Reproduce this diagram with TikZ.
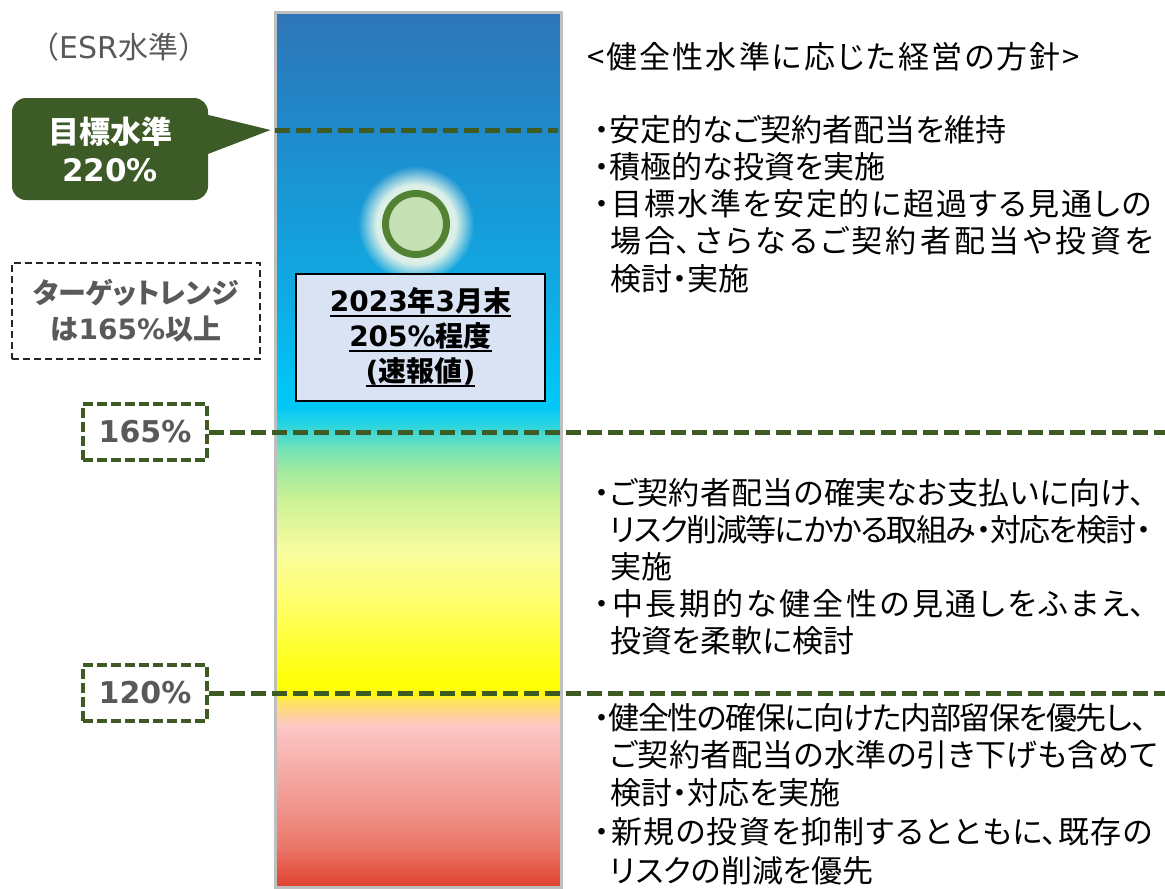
\documentclass[tikz,border=0pt]{standalone}
\usepackage{fontspec}
\usetikzlibrary{calc,fadings}
\setmainfont{Noto Sans CJK JP}
\newfontfamily\jpr{Noto Sans CJK JP}[RawFeature=+palt]
\newfontfamily\dv{DejaVu Sans}
\XeTeXlinebreaklocale "ja"
\XeTeXlinebreakskip=0pt plus 12pt minus 4pt

\definecolor{cbtop}{HTML}{2E75B6}
\definecolor{cb130}{HTML}{1F8ACB}
\definecolor{cb200}{HTML}{1899D7}
\definecolor{cb300}{HTML}{0EACE3}
\definecolor{cc380}{HTML}{02C4F5}
\definecolor{cc405}{HTML}{00C8F7}
\definecolor{cc418}{HTML}{1CD0EA}
\definecolor{ct430}{HTML}{3CD8D4}
\definecolor{cg450}{HTML}{78E2B4}
\definecolor{cg470}{HTML}{A2EA9F}
\definecolor{cg500}{HTML}{CCF295}
\definecolor{cy550}{HTML}{F8FC9E}
\definecolor{cy600}{HTML}{FFFF6C}
\definecolor{cy670}{HTML}{FFFF12}
\definecolor{cy692}{HTML}{FFFF00}
\definecolor{co700}{HTML}{FFE45C}
\definecolor{co712}{HTML}{FFD58E}
\definecolor{cp725}{HTML}{FDC7C5}
\definecolor{cp745}{HTML}{FABAB8}
\definecolor{cr800}{HTML}{F19A92}
\definecolor{cr850}{HTML}{EA7366}
\definecolor{cr887}{HTML}{E0412F}
\definecolor{lineg}{HTML}{3E5B24}
\definecolor{callg}{HTML}{3D5B27}
\definecolor{txtgray}{HTML}{595959}
\definecolor{barborder}{HTML}{BFBFBF}
\definecolor{valfill}{HTML}{DAE3F3}
\definecolor{ringg}{HTML}{548235}
\definecolor{dotfill}{HTML}{C5E0B4}
\definecolor{glowc}{HTML}{DCF0E8}

\pgfdeclareverticalshading{esr}{100bp}{%
color(0bp)=(cr887); color(25bp)=(cr887); color(27.11bp)=(cr850);
color(29.96bp)=(cr800); color(33.10bp)=(cp745); color(34.24bp)=(cp725);
color(34.98bp)=(co712); color(35.66bp)=(co700); color(36.12bp)=(cy692);
color(37.37bp)=(cy670); color(41.36bp)=(cy600); color(44.21bp)=(cy550);
color(47.06bp)=(cg500); color(48.77bp)=(cg470); color(49.91bp)=(cg450);
color(51.05bp)=(ct430); color(51.74bp)=(cc418); color(52.48bp)=(cc405);
color(53.90bp)=(cc380); color(58.47bp)=(cb300); color(64.17bp)=(cb200);
color(68.16bp)=(cb130); color(75bp)=(cbtop); color(100bp)=(cbtop)}

\pgfdeclareradialshading{glowsh}{\pgfpointorigin}{%
color(0bp)=(white); color(17bp)=(white); color(25bp)=(black); color(50bp)=(black)}
\pgfdeclarefading{glowfade}{\pgfuseshading{glowsh}}

\newcommand\jline[2]{\parbox[b]{#1pt}{\tolerance=9999\parfillskip=0pt\relax\noindent #2}}
\newcommand\ulx[1]{\setbox0\hbox{#1}\rlap{\rule[-5pt]{\wd0}{2pt}}\box0}

\tikzset{
  bar/.style={rectangle, inner sep=0, minimum width=286pt, minimum height=875pt,
    shade, shading=esr, draw=barborder, line width=3pt},
  lvline/.style={draw=lineg, line width=5pt, dash pattern=on 15pt off 6pt},
  pctbox/.style={rectangle, draw=lineg, line width=3.5pt, dash pattern=on 10pt off 4pt,
    minimum width=124pt, minimum height=56pt, inner sep=0, text=txtgray,
    font=\dv\bfseries\fontsize{30pt}{36pt}\selectfont},
  rangebox/.style={rectangle, draw=black!85, line width=2pt, dash pattern=on 7pt off 4pt,
    minimum width=248pt, minimum height=96pt, inner sep=0, text=txtgray, align=center,
    font=\jpr\bfseries\fontsize{28pt}{36pt}\selectfont},
  callout/.style={rectangle, rounded corners=14pt, fill=callg, minimum width=196pt,
    minimum height=102pt, inner sep=0, text=white, align=center,
    font=\bfseries\fontsize{31pt}{38pt}\selectfont},
  valbox/.style={rectangle, draw=black, line width=2pt, fill=valfill, minimum width=249pt,
    minimum height=127pt, inner sep=0, align=center,
    font=\bfseries\fontsize{28pt}{35pt}\selectfont},
  ring/.style={circle, draw=ringg, line width=7pt, fill=dotfill, minimum size=61pt, inner sep=0},
  rt/.style={anchor=base west, inner sep=0, font=\jpr\fontsize{31pt}{37pt}\selectfont},
  esrlabel/.style={inner sep=0, text=txtgray, font=\fontsize{30pt}{34pt}\selectfont}
}

\begin{document}
\begin{tikzpicture}[x=1pt,y=-1pt]
\useasboundingbox (0,0) rectangle (1165,889);
\fill[white] (0,0) rectangle (1165,889);

% ESR bar
\node[bar] (bar) at (418,449.5) {};

% level coordinates
\coordinate (y220) at (0,130);
\coordinate (r165) at (1165,432);
\coordinate (r120) at (1165,693);

% glow + current position marker
\coordinate (dotc) at (416,224);
\fill[glowc, path fading=glowfade] (dotc) circle (58);
\node[ring] (dot) at (dotc) {};

% current value box
\node[valbox] (val) at (420.5,337)
  {\ulx{{\dv 2023}年{\dv 3}月末}\\\ulx{{\dv 205\%}程度}\\\ulx{{\dv (}速報値{\dv )}}};

% target level line 220%
\draw[lvline] ([xshift=1.5pt]bar.west |- y220) -- ([xshift=-5pt]bar.east |- y220);

% callout
\node[callout] (goal) at (110,149) {目標水準\\{\dv 220\%}};
\coordinate (tip) at ([xshift=-3pt]bar.west |- y220);
\fill[callg] ($(goal.east)+(-8,-36)$) -- (tip) -- ($(goal.east)+(-8,8)$) -- cycle;

% ESR label
\node[esrlabel] (esr) at (119,47) {（{\dv ESR}水準）};

% target range
\node[rangebox] (range) at (136,311) {ターゲットレンジ\\は{\dv 165\%}以上};

% 165% and 120%
\node[pctbox] (b165) at (145,432) {165\%};
\node[pctbox] (b120) at (145,693) {120\%};
\draw[lvline] (b165.east) -- (r165);
\draw[lvline] (b120.east) -- (r120);

% right-hand texts
\node[rt] (head) at (587,68) {\jline{493}{<健全性水準に応じた経営の方針>}};

\node[rt] (a1) at (594,141) {・安定的なご契約者配当を維持};
\node[rt] (a2) at (594,178) {・積極的な投資を実施};
\node[rt] (a3) at (594,215) {\jline{558}{・目標水準を安定的に超過する見通しの}};
\node[rt] (a4) at (610,252) {\jline{543}{場合、さらなるご契約者配当や投資を}};
\node[rt] (a5) at (610,290) {検討・実施};

\node[rt] (b1) at (594,504) {\jline{551}{・ご契約者配当の確実なお支払いに向け、}};
\node[rt] (b2) at (610,541) {\jline{542}{リスク削減等にかかる取組み・対応を検討・}};
\node[rt] (b3) at (610,578) {実施};
\node[rt] (b4) at (594,615) {\jline{551}{・中長期的な健全性の見通しをふまえ、}};
\node[rt] (b5) at (610,652) {投資を柔軟に検討};

\node[rt] (c1) at (594,729) {\jline{553}{・健全性の確保に向けた内部留保を優先し、}};
\node[rt] (c2) at (610,766) {\jline{548}{ご契約者配当の水準の引き下げも含めて}};
\node[rt] (c3) at (610,804) {検討・対応を実施};
\node[rt] (c4) at (594,843) {\jline{559}{・新規の投資を抑制するとともに、既存の}};
\node[rt] (c5) at (610,882) {リスクの削減を優先};
\end{tikzpicture}
\end{document}
